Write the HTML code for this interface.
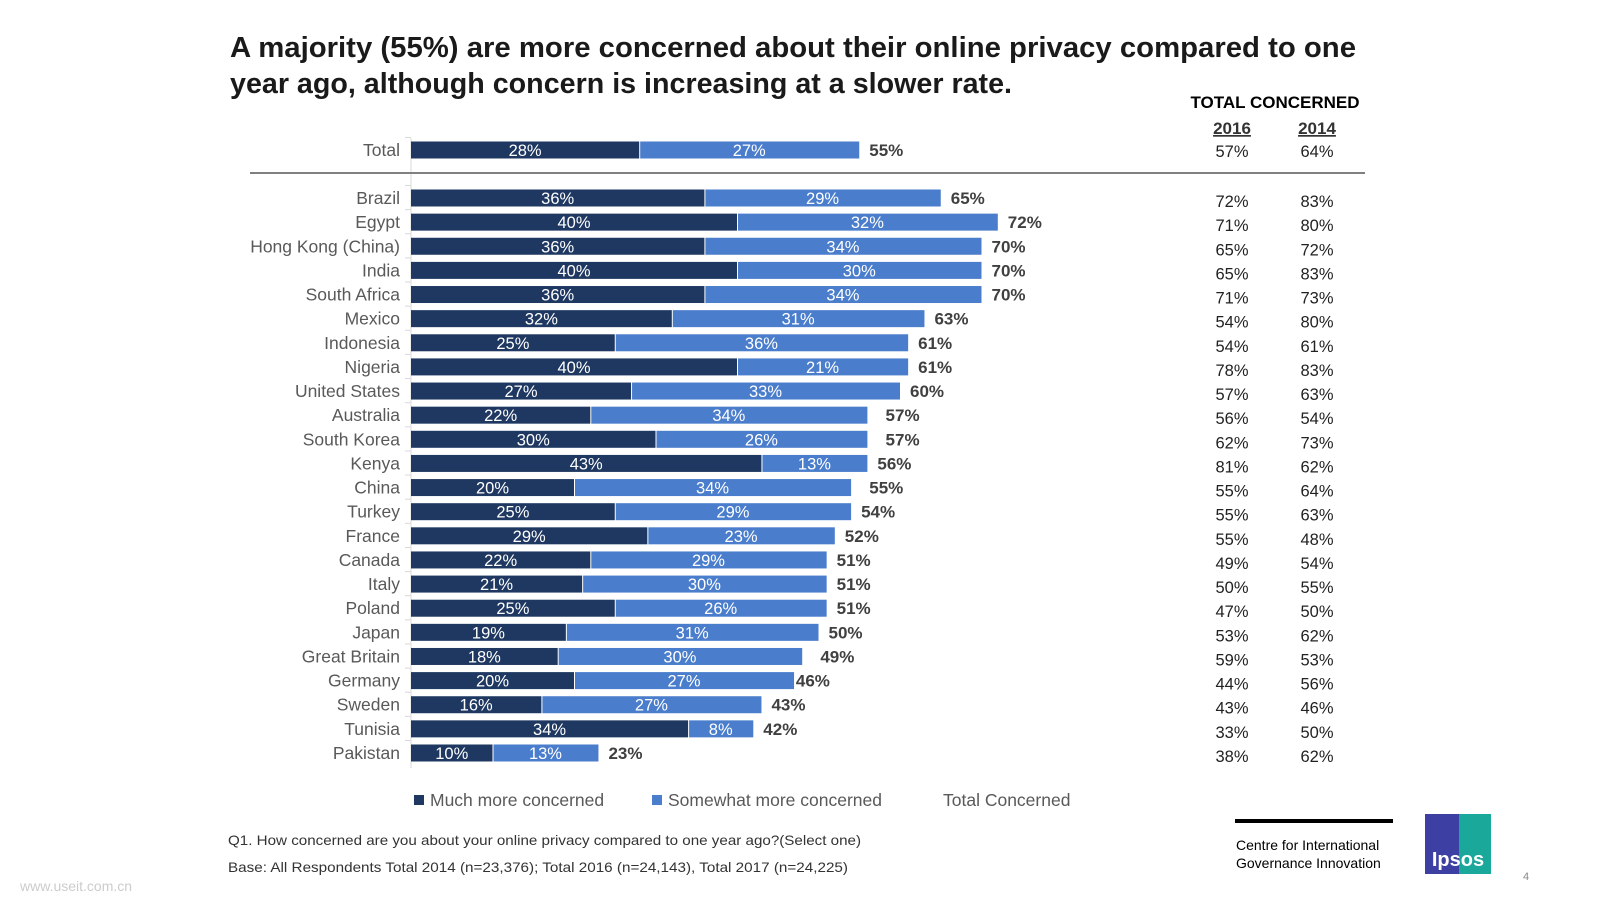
<!DOCTYPE html>
<html><head><meta charset="utf-8"><style>
html,body{margin:0;padding:0;background:#fff;}
svg{display:block;font-family:"Liberation Sans",sans-serif;}
</style></head><body>
<svg id="chart" width="1600" height="900" viewBox="0 0 1600 900">
<text x="230" y="57" font-size="29" font-weight="bold" fill="#1a1a1a" textLength="1126" lengthAdjust="spacingAndGlyphs">A majority (55%) are more concerned about their online privacy compared to one</text>
<text x="230" y="93" font-size="29" font-weight="bold" fill="#1a1a1a" textLength="782" lengthAdjust="spacingAndGlyphs">year ago, although concern is increasing at a slower rate.</text>
<text x="1275" y="108" font-size="17" font-weight="bold" text-anchor="middle" fill="#000">TOTAL CONCERNED</text>
<text x="1232" y="134" font-size="17" font-weight="bold" text-anchor="middle" fill="#333" text-decoration="underline">2016</text>
<text x="1317" y="134" font-size="17" font-weight="bold" text-anchor="middle" fill="#333" text-decoration="underline">2014</text>
<line x1="411" y1="138" x2="411" y2="768" stroke="#d9d9d9" stroke-width="1"/>
<line x1="250" y1="173" x2="1365" y2="173" stroke="#808080" stroke-width="2"/>
<g id="bars"></g>
<g>
<rect x="414" y="795" width="10" height="10" fill="#1F3861"/>
<text x="430" y="806" font-size="17.5" fill="#595959">Much more concerned</text>
<rect x="652" y="795" width="10" height="10" fill="#4A7DCB"/>
<text x="668" y="806" font-size="17.5" fill="#595959">Somewhat more concerned</text>
<text x="943" y="806" font-size="17.5" fill="#595959">Total Concerned</text>
</g>
<text x="228" y="845" font-size="14" fill="#333" textLength="633" lengthAdjust="spacingAndGlyphs">Q1. How concerned are you about your online privacy compared to one year ago?(Select one)</text>
<text x="228" y="872" font-size="14" fill="#333" textLength="620" lengthAdjust="spacingAndGlyphs">Base: All Respondents Total  2014 (n=23,376); Total 2016 (n=24,143), Total 2017 (n=24,225)</text>
<rect x="1235" y="819" width="158" height="4" fill="#000"/>
<text x="1236" y="850" font-size="14" fill="#000">Centre for International</text>
<text x="1236" y="868" font-size="14" fill="#000">Governance Innovation</text>
<g>
<rect x="1425" y="814" width="34" height="60" fill="#3E3FA3"/>
<rect x="1459" y="814" width="32" height="60" fill="#1AA89A"/>
<text x="1458" y="866" font-size="20" font-weight="bold" fill="#fff" text-anchor="middle">Ipsos</text>
</g>
<text x="1526" y="880" font-size="11" fill="#888" text-anchor="middle">4</text>
<text x="20" y="891" font-size="14" fill="#ccc">www.useit.com.cn</text>
</svg>
<script>
const categories=["Total","Brazil","Egypt","Hong Kong (China)","India","South Africa","Mexico","Indonesia","Nigeria","United States","Australia","South Korea","Kenya","China","Turkey","France","Canada","Italy","Poland","Japan","Great Britain","Germany","Sweden","Tunisia","Pakistan"];
const muchMore=[28,36,40,36,40,36,32,25,40,27,22,30,43,20,25,29,22,21,25,19,18,20,16,34,10];
const somewhatMore=[27,29,32,34,30,34,31,36,21,33,34,26,13,34,29,23,29,30,26,31,30,27,27,8,13];
const totalConcerned=[55,65,72,70,70,70,63,61,61,60,57,57,56,55,54,52,51,51,51,50,49,46,43,42,23];
const total2016=[57,72,71,65,65,71,54,54,78,57,56,62,81,55,55,55,49,50,47,53,59,44,43,33,38];
const total2014=[64,83,80,72,83,73,80,61,83,63,54,73,62,64,63,48,54,55,50,62,53,56,46,50,62];

const NS="http://www.w3.org/2000/svg";
const x0=411, pxPer=8.15;
function xScale(v){return x0+v*pxPer;}
function yCenter(i){return i===0?150:198+(i-1)*24.13;}
const g=document.getElementById('bars');
function mk(tag,attrs,txt){const e=document.createElementNS(NS,tag);for(const k in attrs)e.setAttribute(k,attrs[k]);if(txt!==undefined)e.textContent=txt;g.appendChild(e);return e;}
categories.forEach((c,i)=>{
  const yc=yCenter(i), h=17, y=yc-h/2;
  const t=mk('line',{x1:x0-6,y1:y-4,x2:x0,y2:y-4,stroke:'#d9d9d9'});
  
  
  const lab=mk('text',{x:400,y:yc+6,'font-size':17.5,'text-anchor':'end',fill:'#595959'},c);
  
  
  const xa=xScale(0), xb=xScale(muchMore[i]), xc=xScale(muchMore[i]+somewhatMore[i]);
  const b1=mk('rect',{x:xa,y:y,width:xb-xa,height:h,fill:'#1F3861'});
  
  
  const b2=mk('rect',{x:xb+1,y:y,width:Math.max(0,xc-xb-1),height:h,fill:'#4A7DCB'});
  
  
  const l1=mk('text',{x:(xa+xb)/2,y:yc+6,'font-size':16.5,'text-anchor':'middle',fill:'#fff'},muchMore[i]+'%');
  
  
  const l2=mk('text',{x:(xb+xc)/2,y:yc+6,'font-size':16.5,'text-anchor':'middle',fill:'#fff'},somewhatMore[i]+'%');
  
  
  const l3=mk('text',{x:xScale(totalConcerned[i])+10,y:yc+6,'font-size':17,'font-weight':'bold',fill:'#404040'},totalConcerned[i]+'%');
  
  
  const ty=i===0?157:yc+9;
  const a=mk('text',{x:1232,y:ty,'font-size':16.5,'text-anchor':'middle',fill:'#222'},total2016[i]+'%');
  
  
  const b=mk('text',{x:1317,y:ty,'font-size':16.5,'text-anchor':'middle',fill:'#222'},total2014[i]+'%');
  
  
});
</script>
</body></html>
